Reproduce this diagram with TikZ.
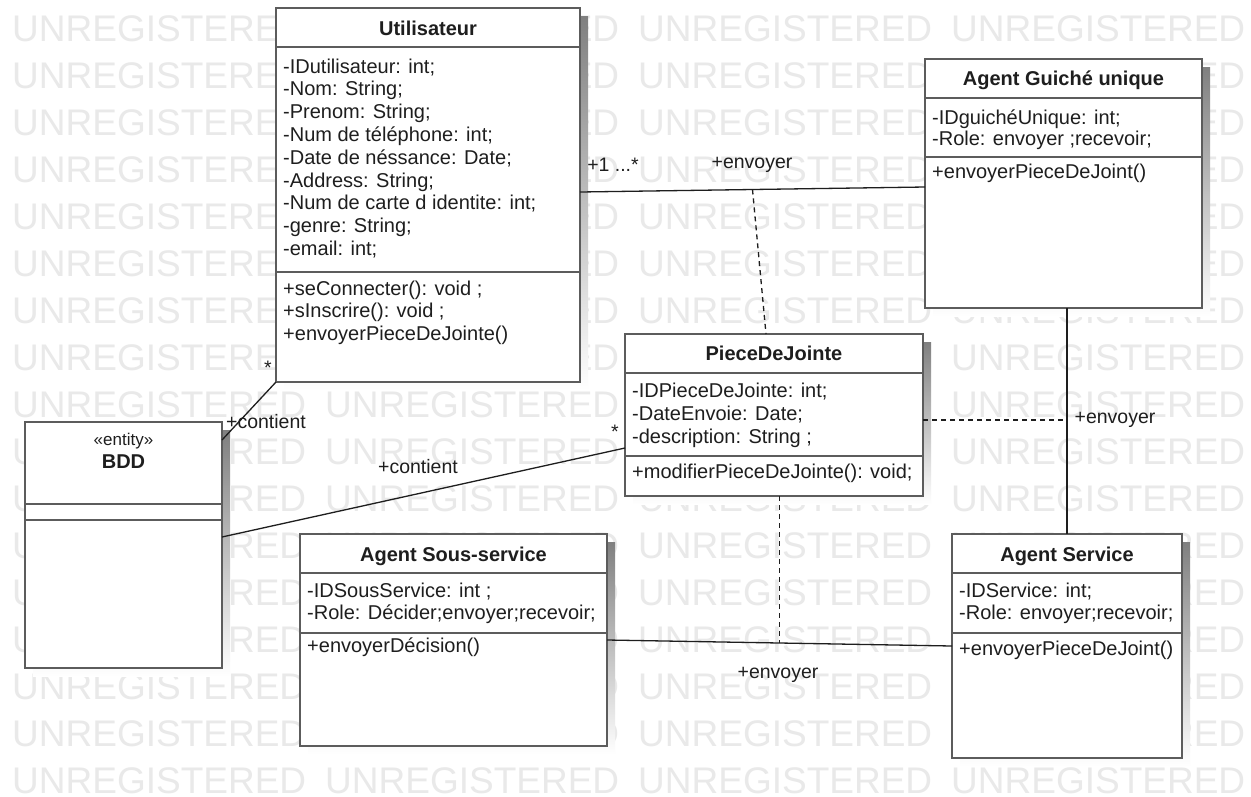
\documentclass[tikz,border=0pt]{standalone}
\usepackage{fontspec}
\setmainfont{Liberation Sans}
\usetikzlibrary{calc}

\definecolor{wmgray}{HTML}{E9E9E9}
\definecolor{boxline}{HTML}{5C5C5C}
\definecolor{ink}{HTML}{1E1E1E}
\definecolor{shade}{HTML}{F5F5F5}

\tikzset{
  classbox/.style={draw=boxline, line width=2pt, fill=white, anchor=north west,
    inner sep=0pt, outer sep=0pt},
  sepline/.style={draw=boxline, line width=2pt},
  classtitle/.style={anchor=base, inner sep=0pt, text=ink,
    font=\fontsize{20}{22}\selectfont\bfseries},
  member/.style={anchor=base west, inner sep=0pt, text=ink,
    font=\fontsize{20}{22}\selectfont},
  stereo/.style={anchor=base, inner sep=0pt, text=ink,
    font=\fontsize{17}{19}\selectfont},
  assoc/.style={draw=ink, line width=1.3pt},
  assocdash/.style={draw=ink, line width=1.3pt, dash pattern=on 5pt off 4pt},
  lbl/.style={inner sep=0pt, text=ink, font=\fontsize{19.5}{21}\selectfont},
  wm/.style={anchor=base west, inner sep=0pt, text=wmgray,
    font=\fontsize{37}{37}\selectfont},
}

% frame of a class: name, left, top, width, height, first and second separator
\newcommand{\classframe}[7]{%
  \fill[shade] (#2+8,#3+8) rectangle ++(#4,#5);
  \node[classbox, minimum width=#4pt, minimum height=#5pt] (#1) at (#2,#3) {};
  \draw[sepline] (#1.west |- 0,#6) -- (#1.east |- 0,#6);
  \draw[sepline] (#1.west |- 0,#7) -- (#1.east |- 0,#7);
}
% one text line per member: name prefix, x, first baseline, line step, members
\newcommand{\members}[5]{%
  \foreach [count=\i] \t in {#5}
    \node[member] (#1-\i) at (#2, {#3+#4*(\i-1)}) {\t};
}

\begin{document}
\begin{tikzpicture}[x=1pt, y=-1pt]
  \fill[white] (0,0) rectangle (1251,796);
  \useasboundingbox (0,0) rectangle (1251,796);

  % background lettering
  \foreach \r in {0,...,16}
    \foreach \c in {0,...,3}
      \node[wm] (wm-\r-\c) at ({12+313*\c},{41+47*\r}) {UNREGISTERED};

  % Utilisateur
  \classframe{util}{276}{8}{304}{374}{47}{272}
  \node[classtitle] (util-t) at (428,35) {Utilisateur};
  \members{util-a}{283}{73}{22.8}{-IDutilisateur: int;, -Nom: String;, -Prenom: String;,
    -Num de téléphone: int;, -Date de néssance: Date;, -Address: String;,
    -Num de carte d identite: int;, -genre: String;, -email: int;}
  \members{util-m}{283}{295}{22.5}{+seConnecter(): void ;, +sInscrire(): void ;,
    +envoyerPieceDeJointe()}

  % Agent Guiché unique
  \classframe{guiche}{925}{59}{277}{249}{98}{157}
  \node[classtitle] (guiche-t) at (1063.5,85) {Agent Guiché unique};
  \members{guiche-a}{932}{124}{21.5}{-IDguichéUnique: int;, -Role: envoyer ;recevoir;}
  \members{guiche-m}{932}{178}{22}{+envoyerPieceDeJoint()}

  % PieceDeJointe
  \classframe{piece}{625}{334}{298}{162}{373}{456}
  \node[classtitle] (piece-t) at (774,360) {PieceDeJointe};
  \members{piece-a}{632}{397}{23}{-IDPieceDeJointe: int;, -DateEnvoie: Date;,
    -description: String ;}
  \members{piece-m}{632}{478}{22}{+modifierPieceDeJointe(): void;}

  % BDD
  \classframe{bdd}{25}{422}{197}{246}{504}{520}
  \node[stereo] (bdd-s) at (123.5,445) {«entity»};
  \node[classtitle] (bdd-t) at (123.5,468) {BDD};

  % Agent Sous-service
  \classframe{sous}{300}{534}{307}{212}{573}{633}
  \node[classtitle] (sous-t) at (453.5,561) {Agent Sous-service};
  \members{sous-a}{307}{597}{22}{-IDSousService: int ;, -Role: Décider;envoyer;recevoir;}
  \members{sous-m}{307}{652}{22}{+envoyerDécision()}

  % Agent Service
  \classframe{service}{952}{534}{230}{224}{573}{633}
  \node[classtitle] (service-t) at (1067,561) {Agent Service};
  \members{service-a}{959}{597}{22}{-IDService: int;, -Role: envoyer;recevoir;}
  \members{service-m}{959}{655}{22}{+envoyerPieceDeJoint()}

  % associations
  \draw[assoc] ([yshift=3pt]util.east) -- coordinate[pos=0.5] (m1) ([yshift=-3.5pt]guiche.west);
  \draw[assocdash] (m1) -- ([xshift=-8pt]piece.north);

  \draw[assoc] (service.north |- guiche.south) -- (service.north);
  \draw[assocdash] ([yshift=-5pt]piece.east) -- ([yshift=-5pt]piece.east -| service.north);

  \draw[assoc] (sous.east) -- coordinate[pos=0.5] (m3) (service.west);
  \draw[assocdash] (m3 |- piece.south) -- (m3);

  \draw[assoc] (util.south west) -- ([yshift=-18pt]bdd.north east);
  \draw[assoc] ([yshift=8pt]bdd.east) -- ([yshift=-33pt]piece.west);

  % association labels
  \node[lbl] (l-mult) at (613,165) {+1 ...*};
  \node[lbl] (l-env1) at (752,165) {+envoyer};
  \node[lbl] (l-env2) at (1115,420) {+envoyer};
  \node[lbl] (l-env3) at (778,675) {+envoyer};
  \node[lbl] (l-star1) at (268,368) {*};
  \node[lbl] (l-cont1) at (266,422) {+contient};
  \node[lbl] (l-cont2) at (418,467) {+contient};
  \node[lbl] (l-star2) at (615,432) {*};
\end{tikzpicture}
\end{document}
